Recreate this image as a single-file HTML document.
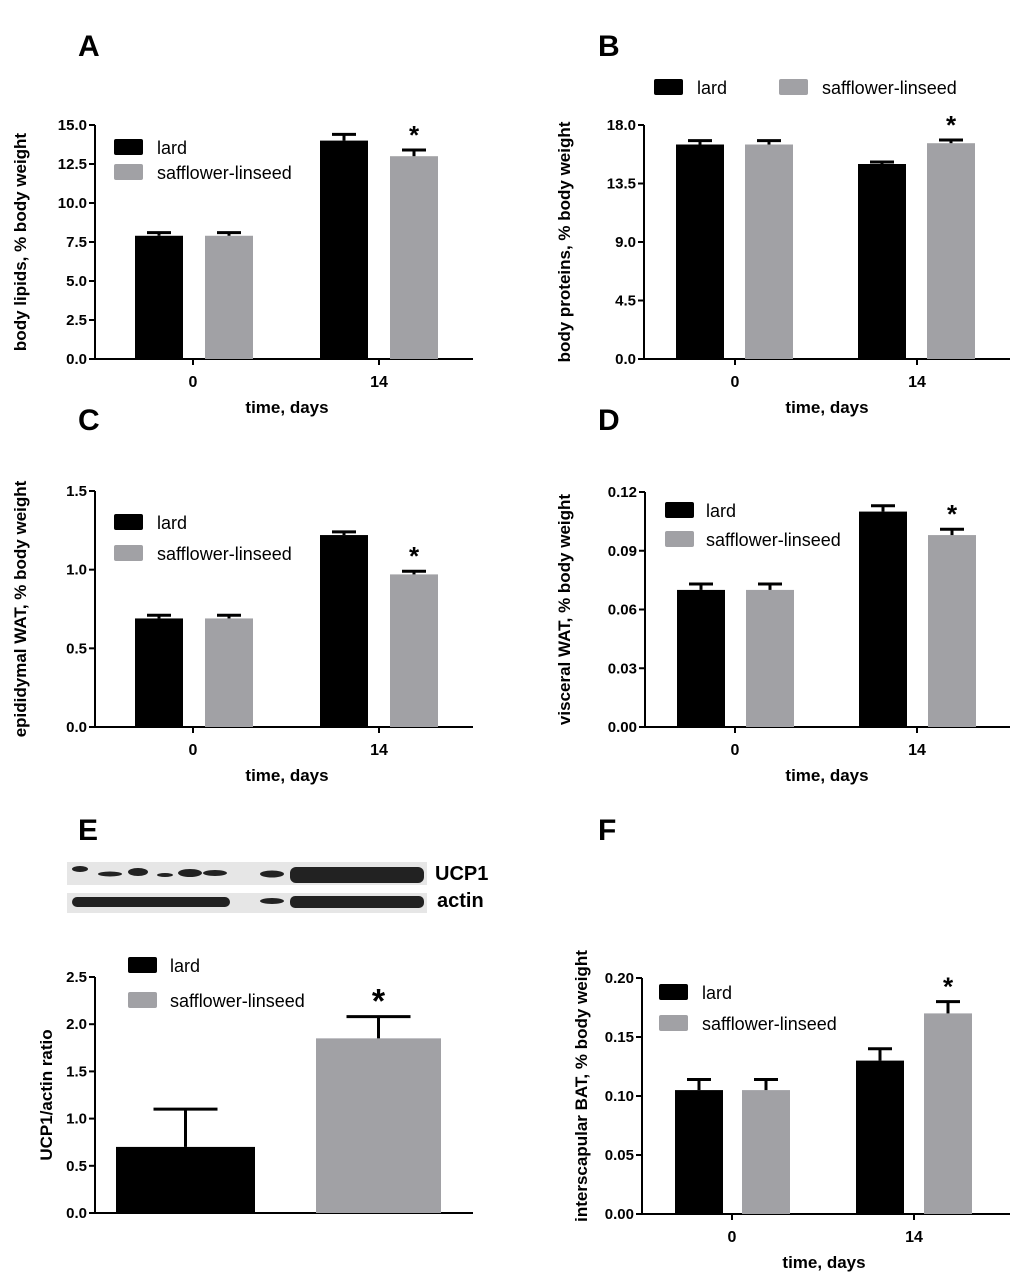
<!DOCTYPE html>
<html><head><meta charset="utf-8"><style>
body{margin:0;background:#fff;font-family:"Liberation Sans",Arial,sans-serif}
svg text{font-family:"Liberation Sans",Arial,sans-serif}
</style></head><body>
<svg id="fig" width="1024" height="1279" viewBox="0 0 1024 1279" xmlns="http://www.w3.org/2000/svg">
<g>
<rect x="67" y="862" width="360" height="23" fill="#e6e6e6"/>
<rect x="67" y="893" width="360" height="20" fill="#e6e6e6"/>
<g fill="#222">
<ellipse cx="80" cy="869" rx="8" ry="3"/><ellipse cx="110" cy="874" rx="12" ry="2.5"/><ellipse cx="138" cy="872" rx="10" ry="4"/><ellipse cx="165" cy="875" rx="8" ry="2"/><ellipse cx="190" cy="873" rx="12" ry="4"/><ellipse cx="215" cy="873" rx="12" ry="3"/><ellipse cx="272" cy="874" rx="12" ry="3.5"/>
<rect x="290" y="867" width="134" height="16" rx="6"/>
<rect x="72" y="897" width="158" height="10" rx="5"/><ellipse cx="272" cy="901" rx="12" ry="3"/><rect x="290" y="896" width="134" height="12" rx="5"/>
</g>
<text x="435" y="880" font-size="20" font-weight="bold">UCP1</text>
<text x="437" y="907" font-size="20" font-weight="bold">actin</text>
</g>
</svg>
<script>
const NS="http://www.w3.org/2000/svg";
const svg=document.getElementById('fig');
function mk(tag,attrs,parent,txt){const e=document.createElementNS(NS,tag);for(const k in attrs)e.setAttribute(k,attrs[k]);if(txt!==undefined)e.textContent=txt;(parent||svg).appendChild(e);return e;}

const categories=["0","14"];
const seriesNames=["lard","safflower-linseed"];
const aLard=[7.9,14.0], aSaff=[7.9,13.0], aLardErr=[0.2,0.4], aSaffErr=[0.2,0.4];
const aTicks=["0.0","2.5","5.0","7.5","10.0","12.5","15.0"];
const bLard=[16.5,15.0], bSaff=[16.5,16.6], bLardErr=[0.3,0.15], bSaffErr=[0.3,0.25];
const bTicks=["0.0","4.5","9.0","13.5","18.0"];
const cLard=[0.69,1.22], cSaff=[0.69,0.97], cLardErr=[0.02,0.02], cSaffErr=[0.02,0.02];
const cTicks=["0.0","0.5","1.0","1.5"];
const dLard=[0.070,0.110], dSaff=[0.070,0.098], dLardErr=[0.003,0.003], dSaffErr=[0.003,0.003];
const dTicks=["0.00","0.03","0.06","0.09","0.12"];
const eValues=[0.70,1.85], eErr=[0.40,0.23];
const eTicks=["0.0","0.5","1.0","1.5","2.0","2.5"];
const fLard=[0.105,0.13], fSaff=[0.105,0.17], fLardErr=[0.009,0.01], fSaffErr=[0.009,0.01];
const fTicks=["0.00","0.05","0.10","0.15","0.20"];

const GREY="#a1a1a5";
function panel(o){
  const g=mk('g',{});  
  const max=parseFloat(o.ticks[o.ticks.length-1]);
  const y=v=>o.bottom-(v/max)*(o.bottom-o.top);
  const l=mk('text',{x:o.letX,y:o.letY,'font-size':30,'font-weight':'bold'},g,o.id.toUpperCase());
   
  const ax=mk('line',{x1:o.ax,y1:o.top,x2:o.ax,y2:o.bottom,stroke:'#000','stroke-width':2},g);
   
  o.ticks.forEach(t=>{const yy=y(parseFloat(t));
    mk('line',{x1:o.ax-6,y1:yy,x2:o.ax,y2:yy,stroke:'#000','stroke-width':2},g);
    const tl=mk('text',{x:o.ax-8,y:yy+5,'font-size':15,'font-weight':'bold','text-anchor':'end'},g,t);
     });
  const xa=mk('line',{x1:o.ax-6,y1:o.bottom,x2:o.axEnd,y2:o.bottom,stroke:'#000','stroke-width':2},g);
   
  const yt=mk('text',{x:0,y:0,'font-size':17,'font-weight':'bold','text-anchor':'middle',transform:`translate(${o.ytX},${(o.top+o.bottom)/2+o.ytOff}) rotate(-90)`},g,o.ytitle);
   
  o.bars.forEach((b,i)=>{
    const r=mk('rect',{x:b.x,y:y(b.v),width:b.w,height:o.bottom-y(b.v),fill:b.c},g);
     
    const cx=b.x+b.w/2, te=y(b.v+b.e);
    const el=mk('line',{x1:cx,y1:y(b.v),x2:cx,y2:te,stroke:'#000','stroke-width':3},g);
     
    mk('line',{x1:cx-b.cap,y1:te,x2:cx+b.cap,y2:te,stroke:'#000','stroke-width':3},g);
    if(b.star){const s=mk('text',{x:cx,y:te-(o.starGap||6),'font-size':o.starSize||26,'font-weight':'bold','text-anchor':'middle'},g,'*');
       }
  });
  if(o.xticks){o.xticks.forEach((x,i)=>{mk('line',{x1:x,y1:o.bottom,x2:x,y2:o.bottom+6,stroke:'#000','stroke-width':2},g);
    const t=mk('text',{x:x,y:o.bottom+28,'font-size':16,'font-weight':'bold','text-anchor':'middle'},g,categories[i]);
     });
    const xt=mk('text',{x:o.xtX,y:o.bottom+54,'font-size':17,'font-weight':'bold','text-anchor':'middle'},g,'time, days');
     }
  o.legend.forEach((L,i)=>{
    const sw=mk('rect',{x:L.x,y:L.y,width:29,height:16,rx:2,fill:i?GREY:'#000'},g);
     
    const t=mk('text',{x:L.tx,y:L.y+15,'font-size':18},g,seriesNames[i]);
     });
}
function std(L,S,LE,SE,off,offs){return [
 {x:off+offs[0],w:48,v:L[0],e:LE[0],c:'#000',cap:12,name:'lard-0'},
 {x:off+offs[1],w:48,v:S[0],e:SE[0],c:GREY,cap:12,name:'safflower-0'},
 {x:off+offs[2],w:48,v:L[1],e:LE[1],c:'#000',cap:12,name:'lard-14'},
 {x:off+offs[3],w:48,v:S[1],e:SE[1],c:GREY,cap:12,name:'safflower-14',star:true}];}
const LO=[40,110,225,295], RO=[32,101,214,283];

panel({id:'a',letX:78,letY:56,ax:95,axEnd:473,top:125,bottom:359,ticks:aTicks,ytitle:'body lipids, % body weight',ytX:26,ytOff:0,
 bars:std(aLard,aSaff,aLardErr,aSaffErr,95,LO),xticks:[193,379],xtX:287,legend:[{x:114,y:139,tx:157},{x:114,y:164,tx:157}]});
panel({id:'b',letX:598,letY:56,ax:644,axEnd:1010,top:125,bottom:359,ticks:bTicks,ytitle:'body proteins, % body weight',ytX:570,ytOff:0,
 bars:std(bLard,bSaff,bLardErr,bSaffErr,644,RO),xticks:[735,917],xtX:827,legend:[{x:654,y:79,tx:697},{x:779,y:79,tx:822}]});
panel({id:'c',letX:78,letY:430,ax:95,axEnd:473,top:491,bottom:727,ticks:cTicks,ytitle:'epididymal WAT, % body weight',ytX:26,ytOff:0,
 bars:std(cLard,cSaff,cLardErr,cSaffErr,95,LO),xticks:[193,379],xtX:287,legend:[{x:114,y:514,tx:157},{x:114,y:545,tx:157}]});
panel({id:'d',letX:598,letY:430,ax:645,axEnd:1010,top:492,bottom:727,ticks:dTicks,ytitle:'visceral WAT, % body weight',ytX:570,ytOff:0,
 bars:std(dLard,dSaff,dLardErr,dSaffErr,645,RO),xticks:[735,917],xtX:827,legend:[{x:665,y:502,tx:706},{x:665,y:531,tx:706}]});
panel({id:'e',letX:78,letY:840,ax:95,axEnd:473,top:977,bottom:1213,ticks:eTicks,ytitle:'UCP1/actin ratio',ytX:52,ytOff:0,starSize:34,starGap:4,
 bars:[{x:116,w:139,v:eValues[0],e:eErr[0],c:'#000',cap:32,name:'lard'},{x:316,w:125,v:eValues[1],e:eErr[1],c:GREY,cap:32,name:'safflower-linseed',star:true}],
 legend:[{x:128,y:957,tx:170},{x:128,y:992,tx:170}]});
panel({id:'f',letX:598,letY:840,ax:642,axEnd:1010,top:978,bottom:1214,ticks:fTicks,ytitle:'interscapular BAT, % body weight',ytX:587,ytOff:-10,
 bars:std(fLard,fSaff,fLardErr,fSaffErr,642,[33,100,214,282]),xticks:[732,914],xtX:824,legend:[{x:659,y:984,tx:702},{x:659,y:1015,tx:702}]});
</script>
</body></html>
